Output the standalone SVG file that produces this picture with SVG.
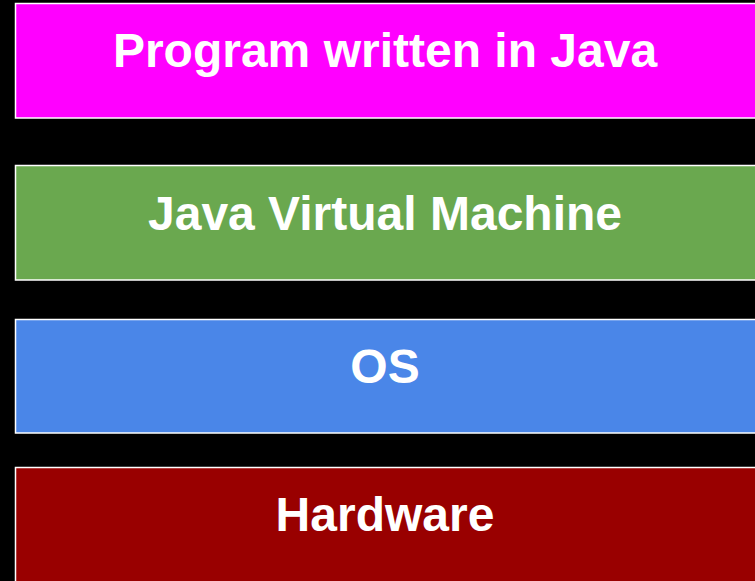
<svg xmlns="http://www.w3.org/2000/svg" width="755" height="581" viewBox="0 0 755 581">
<style>
.box{stroke:#ffffff;stroke-width:1.5}
.lbl{font-family:"Liberation Sans",Arial,sans-serif;font-weight:bold;font-size:48px;fill:#ffffff;text-anchor:middle}
</style>
<rect x="0" y="0" width="755" height="581" fill="#000000"/>
<g id="java-program">
<rect class="box" x="15.5" y="3.5" width="745" height="114.5" fill="#ff00ff"/>
<text class="lbl" x="385" y="67">Program written in Java</text>
</g>
<g id="jvm">
<rect class="box" x="15.5" y="165.5" width="745" height="114.5" fill="#6aa84f"/>
<text class="lbl" x="385" y="230">Java Virtual Machine</text>
</g>
<g id="os">
<rect class="box" x="15.5" y="319.5" width="745" height="113.5" fill="#4a86e8"/>
<text class="lbl" x="385" y="383">OS</text>
</g>
<g id="hardware">
<rect class="box" x="15.5" y="467.5" width="745" height="120" fill="#990000"/>
<text class="lbl" x="385" y="531">Hardware</text>
</g>
<g id="connectors"></g>
</svg>
